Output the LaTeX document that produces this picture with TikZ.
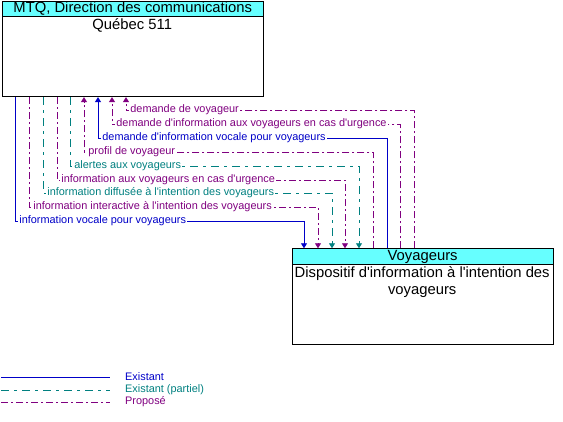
\documentclass[tikz,border=0pt]{standalone}
\usepackage{fontspec}
\setmainfont{Liberation Sans}
\usetikzlibrary{arrows.meta}
\definecolor{cblue}{RGB}{0,0,200}
\definecolor{cteal}{RGB}{0,128,128}
\definecolor{cpurp}{RGB}{128,0,128}
\definecolor{hcyan}{RGB}{102,255,255}
\newcommand\ap{\textquotesingle}
\begin{document}
\begin{tikzpicture}[x=1pt,y=-1pt,
  existant/.style={draw=cblue,line width=0.9pt},
  partiel/.style={draw=cteal,line width=0.9pt,dash pattern=on 8pt off 5pt on 3pt off 5pt},
  propose/.style={draw=cpurp,line width=0.9pt,dash pattern=on 7pt off 3pt on 2pt off 3pt},
  arr/.style={-{Triangle[width=6pt,length=5pt]}},
  lab/.style={font=\fontsize{10.9}{12}\selectfont, fill=white, inner xsep=1.2pt, inner ysep=0.3pt, anchor=west, text height=8pt, text depth=2.3pt},
  hdrbox/.style={draw=black,line width=0.9pt,fill=hcyan,anchor=north west,inner sep=0pt,font=\fontsize{14.8}{17}\selectfont,text height=11pt,text depth=3pt},
  bodybox/.style={draw=black,line width=0.9pt,fill=white,anchor=north west,inner sep=0pt},
  bodytxt/.style={anchor=north,align=center,inner sep=0pt,font=\fontsize{14.8}{17}\selectfont},
  legtxt/.style={font=\fontsize{10.9}{12}\selectfont,anchor=west,inner sep=0pt}]
\useasboundingbox (0,0) rectangle (563,422);

% Top box
\node[bodybox, minimum width=261.5pt, minimum height=80.5pt] (q511) at (1.5,15.7) {};
\node[hdrbox, minimum width=261.5pt, minimum height=14.7pt] (q511h) at (1.5,1) {MTQ, Direction des communications};
\node[bodytxt] (q511t) at (132.25,18.5) {Québec 511};

% Bottom box
\node[bodybox, minimum width=261pt, minimum height=80pt] (voy) at (291.7,264.3) {};
\node[hdrbox, minimum width=261pt, minimum height=16pt] (voyh) at (291.7,248.3) {Voyageurs};
\node[bodytxt] (voyt) at (422.2,266) {Dispositif d\ap information à l\ap intention des\\voyageurs};

% Flows from Québec 511 to Voyageurs
\draw[existant,arr] (15,0 |- q511.south) -- (15,221) -- (304,221) -- (304,0 |- voyh.north);
\node[lab,text=cblue] (f1) at (18,221) {information vocale pour voyageurs};
\draw[propose,arr] (29,0 |- q511.south) -- (29,207) -- (318,207) -- (318,0 |- voyh.north);
\node[lab,text=cpurp] (f2) at (32,207) {information interactive à l\ap intention des voyageurs};
\draw[partiel,arr] (43,0 |- q511.south) -- (43,193) -- (332,193) -- (332,0 |- voyh.north);
\node[lab,text=cteal] (f3) at (46,193) {information diffusée à l\ap intention des voyageurs};
\draw[propose,arr] (57,0 |- q511.south) -- (57,180) -- (345,180) -- (345,0 |- voyh.north);
\node[lab,text=cpurp] (f4) at (60,180) {information aux voyageurs en cas d\ap urgence};
\draw[partiel,arr] (70,0 |- q511.south) -- (70,166) -- (359,166) -- (359,0 |- voyh.north);
\node[lab,text=cteal] (f5) at (73,166) {alertes aux voyageurs};

% Flows from Voyageurs to Québec 511
\draw[propose,arr] (373,0 |- voyh.north) -- (373,152) -- (84,152) -- (84,0 |- q511.south);
\node[lab,text=cpurp] (f6) at (87,152) {profil de voyageur};
\draw[existant,arr] (387,0 |- voyh.north) -- (387,138) -- (98,138) -- (98,0 |- q511.south);
\node[lab,text=cblue] (f7) at (101,138) {demande d\ap information vocale pour voyageurs};
\draw[propose,arr] (400,0 |- voyh.north) -- (400,124) -- (112,124) -- (112,0 |- q511.south);
\node[lab,text=cpurp] (f8) at (115,124) {demande d\ap information aux voyageurs en cas d\ap urgence};
\draw[propose,arr] (414,0 |- voyh.north) -- (414,110) -- (126,110) -- (126,0 |- q511.south);
\node[lab,text=cpurp] (f9) at (129,110) {demande de voyageur};

% Legend
\coordinate (la1) at (1,377); \coordinate (lb1) at (110,377);
\coordinate (la2) at (1,390); \coordinate (lb2) at (110,390);
\coordinate (la3) at (1,402); \coordinate (lb3) at (110,402);
\draw[existant] (la1) -- (lb1);
\draw[partiel] (la2) -- (lb2);
\draw[propose] (la3) -- (lb3);
\node[legtxt,text=cblue] (lt1) at (125,377) {Existant};
\node[legtxt,text=cteal] (lt2) at (125,390) {Existant (partiel)};
\node[legtxt,text=cpurp] (lt3) at (125,402) {Proposé};
\end{tikzpicture}
\end{document}
